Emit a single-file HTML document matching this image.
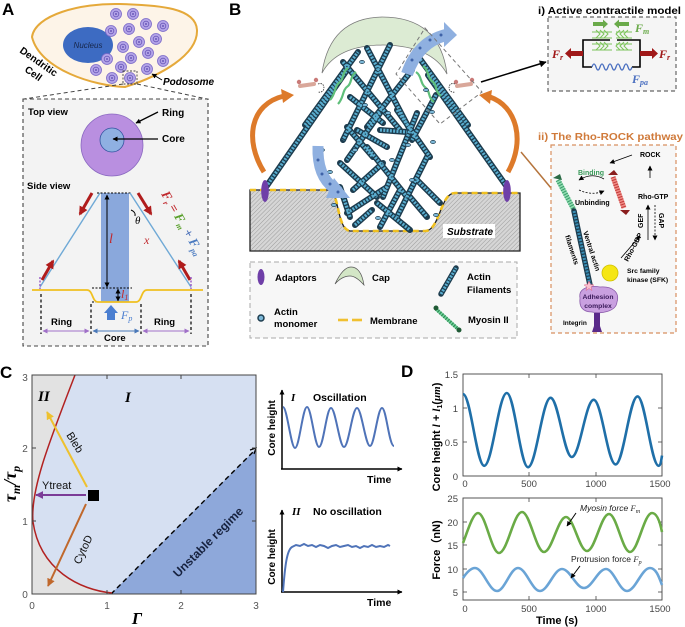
<!DOCTYPE html>
<html><head><meta charset="utf-8">
<style>
html,body{margin:0;padding:0;background:#fff;}
svg{display:block;}
text{font-family:"Liberation Sans",Arial,sans-serif;}
.sf{font-family:"Liberation Serif","DejaVu Serif",serif;}
.b{font-weight:bold;}
</style></head><body>
<svg width="685" height="627" viewBox="0 0 685 627" xmlns="http://www.w3.org/2000/svg">
<defs>
<pattern id="hatch" width="3" height="3" patternUnits="userSpaceOnUse" patternTransform="rotate(45)">
<rect width="3" height="3" fill="#d6d6d6"/>
<line x1="0" y1="0" x2="0" y2="3" stroke="#9c9c9c" stroke-width="1"/>
</pattern>
<marker id="aBk" viewBox="0 0 10 10" refX="9" refY="5" markerWidth="7" markerHeight="7" orient="auto-start-reverse" markerUnits="userSpaceOnUse"><path d="M0,0L10,5L0,10z" fill="#000"/></marker>
<marker id="aBs" viewBox="0 0 10 10" refX="9" refY="5" markerWidth="5" markerHeight="5" orient="auto-start-reverse" markerUnits="userSpaceOnUse"><path d="M0,0L10,5L0,10z" fill="#000"/></marker>
<marker id="aYe" viewBox="0 0 10 10" refX="9" refY="5" markerWidth="8" markerHeight="8" orient="auto" markerUnits="userSpaceOnUse"><path d="M0,0L10,5L0,10z" fill="#eec12e"/></marker>
<marker id="aPu" viewBox="0 0 10 10" refX="9" refY="5" markerWidth="8" markerHeight="8" orient="auto" markerUnits="userSpaceOnUse"><path d="M0,0L10,5L0,10z" fill="#7b3c97"/></marker>
<marker id="aBr" viewBox="0 0 10 10" refX="9" refY="5" markerWidth="8" markerHeight="8" orient="auto" markerUnits="userSpaceOnUse"><path d="M0,0L10,5L0,10z" fill="#c0682c"/></marker>
<marker id="aRd" viewBox="0 0 10 10" refX="8" refY="5" markerWidth="9" markerHeight="9" orient="auto" markerUnits="userSpaceOnUse"><path d="M0,0L10,5L0,10z" fill="#b01c1c"/></marker>
<marker id="aLp" viewBox="0 0 10 10" refX="9" refY="5" markerWidth="5" markerHeight="5" orient="auto-start-reverse" markerUnits="userSpaceOnUse"><path d="M0,0L10,5L0,10z" fill="#a070c8"/></marker>
<marker id="aLb" viewBox="0 0 10 10" refX="9" refY="5" markerWidth="5" markerHeight="5" orient="auto-start-reverse" markerUnits="userSpaceOnUse"><path d="M0,0L10,5L0,10z" fill="#4a78b8"/></marker>
<g id="pod"><circle r="5.5" fill="#b3a4e8" stroke="#7a68c8" stroke-width="0.8"/><circle r="2.8" fill="none" stroke="#6a58b8" stroke-width="0.8"/><circle r="1" fill="#6a58b8"/></g>
<g id="fils">
<line x1="266" y1="187" x2="347" y2="70"/>
<line x1="305" y1="125" x2="358" y2="52"/>
<line x1="507" y1="187" x2="428" y2="75"/>
<line x1="468" y1="125" x2="415" y2="52"/>
<line x1="343" y1="62" x2="400" y2="130"/>
<line x1="390" y1="45" x2="343" y2="140"/>
<line x1="367" y1="48" x2="410" y2="130"/>
<line x1="412" y1="70" x2="367" y2="127"/>
<line x1="350" y1="97" x2="383" y2="123"/>
<line x1="347" y1="127" x2="373" y2="157"/>
<line x1="380" y1="113" x2="347" y2="160"/>
<line x1="417" y1="113" x2="383" y2="197"/>
<line x1="397" y1="110" x2="430" y2="157"/>
<line x1="340" y1="163" x2="377" y2="197"/>
<line x1="367" y1="147" x2="407" y2="197"/>
<line x1="427" y1="157" x2="397" y2="217"/>
<line x1="347" y1="213" x2="387" y2="187"/>
<line x1="377" y1="203" x2="410" y2="230"/>
<line x1="400" y1="190" x2="380" y2="227"/>
<line x1="417" y1="180" x2="440" y2="203"/>
<line x1="410" y1="197" x2="427" y2="217"/>
<line x1="340" y1="187" x2="350" y2="217"/>
<line x1="353" y1="190" x2="383" y2="163"/>
<line x1="380" y1="130" x2="407" y2="132"/>
<line x1="357" y1="130" x2="387" y2="147"/>
<line x1="436" y1="95" x2="412" y2="140"/>
<line x1="355" y1="225" x2="372" y2="210"/>
</g>
</defs>

<!-- ================= PANEL A ================= -->
<text x="2" y="15" font-size="17" class="b">A</text>
<path d="M32,37 C35,15 80,3 120,4 C160,5 196,8 197,30 C198,55 160,76 125,87 C95,86 40,70 32,37 Z" fill="#fdf4e8" stroke="#e5a93a" stroke-width="2"/>
<ellipse cx="88" cy="45" rx="25" ry="18" fill="#3d6bc2"/>
<text x="88" y="48" font-size="8" font-style="italic" text-anchor="middle" fill="#17264a">Nucleus</text>
<use href="#pod" x="116" y="14"/><use href="#pod" x="133" y="14"/><use href="#pod" x="111" y="31"/><use href="#pod" x="129" y="29"/>
<use href="#pod" x="146" y="24"/><use href="#pod" x="163" y="26"/><use href="#pod" x="139" y="42"/><use href="#pod" x="156" y="39"/>
<use href="#pod" x="123" y="47"/><use href="#pod" x="148" y="53"/><use href="#pod" x="163" y="61"/><use href="#pod" x="131" y="58"/>
<use href="#pod" x="107" y="59"/><use href="#pod" x="121" y="67"/><use href="#pod" x="96" y="70"/><use href="#pod" x="147" y="69"/>
<use href="#pod" x="112" y="78"/><use href="#pod" x="130" y="78"/>
<text transform="translate(19,52) rotate(35)" font-size="10" class="b">Dendritic</text>
<text transform="translate(24,71) rotate(35)" font-size="10" class="b">Cell</text>
<text x="163" y="85" font-size="10" class="b" font-style="italic">Podosome</text>
<line x1="162" y1="80" x2="152" y2="74" stroke="#000" stroke-width="1" marker-end="url(#aBs)"/>
<rect x="123" y="71" width="14" height="13" fill="none" stroke="#444" stroke-width="0.9" stroke-dasharray="2 1.5"/>
<line x1="123" y1="84" x2="24" y2="99" stroke="#444" stroke-width="1" stroke-dasharray="4 3"/>
<line x1="137" y1="84" x2="207" y2="99" stroke="#444" stroke-width="1" stroke-dasharray="4 3"/>
<rect x="23" y="99" width="185" height="247" fill="#f3f3f3" stroke="#444" stroke-width="1.1" stroke-dasharray="4 3"/>
<text x="28" y="115" font-size="9.5" class="b">Top view</text>
<circle cx="112" cy="145" r="31" fill="#b98fe0" stroke="#8a68c0" stroke-width="0.8"/>
<circle cx="112" cy="140" r="12" fill="#8fb0e2" stroke="#3454a0" stroke-width="0.8"/>
<text x="162" y="116" font-size="10" class="b">Ring</text>
<line x1="158" y1="112" x2="136" y2="123" stroke="#000" stroke-width="1.3" marker-end="url(#aBs)"/>
<text x="162" y="142" font-size="10" class="b">Core</text>
<line x1="158" y1="139" x2="113" y2="139" stroke="#000" stroke-width="1.3" marker-end="url(#aBs)"/>
<text x="27" y="189" font-size="9.5" class="b">Side view</text>
<rect x="101" y="193" width="28" height="109" fill="#8aa8dc"/>
<line x1="97" y1="193" x2="132" y2="193" stroke="#000" stroke-width="0.9" stroke-dasharray="2 1.5"/>
<line x1="92" y1="288" x2="132" y2="288" stroke="#000" stroke-width="0.9" stroke-dasharray="2 1.5"/>
<line x1="92" y1="302" x2="132" y2="302" stroke="#000" stroke-width="0.9" stroke-dasharray="2 1.5"/>
<line x1="107" y1="195" x2="107" y2="287" stroke="#000" stroke-width="1" marker-start="url(#aBs)" marker-end="url(#aBs)"/>
<line x1="118" y1="289" x2="118" y2="301" stroke="#000" stroke-width="1" marker-start="url(#aBs)" marker-end="url(#aBs)"/>
<text x="109" y="243" font-size="14" font-style="italic" class="sf" fill="#c0282d">l</text>
<text x="121" y="298" font-size="12" font-style="italic" class="sf" fill="#c0282d">l<tspan font-size="8" dy="2">1</tspan></text>
<line x1="100" y1="193" x2="40" y2="287" stroke="#6fa9d6" stroke-width="1.4"/>
<line x1="130" y1="193" x2="191" y2="287" stroke="#6fa9d6" stroke-width="1.4"/>
<line x1="92" y1="193" x2="80" y2="214" stroke="#b01c1c" stroke-width="3" marker-end="url(#aRd)"/>
<line x1="138" y1="193" x2="151" y2="214" stroke="#b01c1c" stroke-width="3" marker-end="url(#aRd)"/>
<line x1="42" y1="280" x2="53" y2="261" stroke="#b01c1c" stroke-width="3" marker-end="url(#aRd)"/>
<line x1="190" y1="280" x2="179" y2="261" stroke="#b01c1c" stroke-width="3" marker-end="url(#aRd)"/>
<path d="M131,210 Q136,212 135,216" fill="none" stroke="#000" stroke-width="1"/>
<text x="135" y="224" font-size="11" font-style="italic" class="sf">θ</text>
<text x="144" y="244" font-size="12" font-style="italic" class="sf" fill="#c0282d">x</text>
<text transform="translate(161,194) rotate(60)" font-size="13" font-weight="bold" font-style="italic" class="sf"><tspan fill="#c0282d">F</tspan><tspan fill="#c0282d" font-size="8" dy="3">r</tspan><tspan fill="#c0282d" dy="-3"> = </tspan><tspan fill="#5aa02c">F</tspan><tspan fill="#5aa02c" font-size="8" dy="3">m</tspan><tspan fill="#4a6fb8" dy="-3"> + </tspan><tspan fill="#4a7ac0">F</tspan><tspan fill="#4a7ac0" font-size="8" dy="3">pa</tspan></text>
<path d="M32,290 L87,290 C93,290 92,302 98,302 L136,302 C142,302 141,290 147,290 L203,290" fill="none" stroke="#f0c020" stroke-width="1.8"/>
<line x1="40" y1="277" x2="40" y2="289" stroke="#9a5ec8" stroke-width="1.5" stroke-dasharray="2 1.5"/>
<line x1="191" y1="277" x2="191" y2="289" stroke="#9a5ec8" stroke-width="1.5" stroke-dasharray="2 1.5"/>
<path d="M104,313 L111,305 L118,313 L115,313 L115,320 L107,320 L107,313 Z" fill="#4a7ed0"/>
<text x="121" y="319" font-size="12" font-style="italic" class="sf" fill="#4a7ed0">F<tspan font-size="8" dy="2">p</tspan></text>
<g stroke="#000" stroke-width="1.2" stroke-dasharray="3 2.5">
<line x1="41" y1="294" x2="41" y2="334"/><line x1="91" y1="304" x2="91" y2="334"/>
<line x1="141" y1="304" x2="141" y2="334"/><line x1="191" y1="294" x2="191" y2="334"/>
</g>
<text x="51" y="325" font-size="9.5" class="b">Ring</text>
<text x="154" y="325" font-size="9.5" class="b">Ring</text>
<text x="104" y="341" font-size="9.5" class="b">Core</text>
<line x1="43" y1="331" x2="89" y2="331" stroke="#a070c8" stroke-width="1" marker-start="url(#aLp)" marker-end="url(#aLp)"/>
<line x1="143" y1="331" x2="189" y2="331" stroke="#a070c8" stroke-width="1" marker-start="url(#aLp)" marker-end="url(#aLp)"/>
<line x1="93" y1="331" x2="139" y2="331" stroke="#4a78b8" stroke-width="1" marker-start="url(#aLb)" marker-end="url(#aLb)"/>

<!-- ================= PANEL B ================= -->
<text x="229" y="15" font-size="17" class="b">B</text>
<path d="M322,73 Q330,18 382,17 Q440,17 447,74 Q432,46 384,45 Q337,45 322,73 Z" fill="#dcebd3" stroke="#7a7a7a" stroke-width="0.8"/>
<path d="M250,190 L328,190 C340,190 336,229 350,231 L425,231 C440,231 440,193 455,193 L520,193 L520,251 L250,251 Z" fill="url(#hatch)" stroke="#222" stroke-width="1.3"/>
<path d="M250,190 L328,190 C340,190 336,229 350,231 L425,231 C440,231 440,193 455,193 L520,193" fill="none" stroke="#f0c020" stroke-width="2.6" stroke-dasharray="6 4"/>
<rect x="443" y="224" width="52" height="14" fill="#fff"/>
<text x="447" y="235" font-size="10" class="b" font-style="italic">Substrate</text>
<use href="#fils" stroke="#1d3c4e" stroke-width="6" stroke-linecap="round"/>
<use href="#fils" stroke="#5aaed0" stroke-width="3.2" stroke-dasharray="2 1.3"/>
<!-- myosin green springs -->
<path d="M330,100 C336,94 334,86 340,82 C344,79 342,72 348,68" fill="none" stroke="#5fbf7a" stroke-width="2.2"/>
<path d="M338,104 C344,98 342,90 348,86 C352,83 350,76 356,72" fill="none" stroke="#5fbf7a" stroke-width="2.2"/>
<path d="M423,66 C429,70 427,78 433,82 C437,85 435,92 441,96" fill="none" stroke="#5fbf7a" stroke-width="2.2"/>
<path d="M416,72 C422,76 420,84 426,88 C430,91 428,98 434,102" fill="none" stroke="#5fbf7a" stroke-width="2.2"/>
<g fill="#7cb8d8" stroke="#1d3c4e" stroke-width="0.7">
<ellipse cx="362" cy="62" rx="2.5" ry="1.6"/><ellipse cx="408" cy="145" rx="2.5" ry="1.6"/><ellipse cx="432" cy="112" rx="2.5" ry="1.6"/>
<ellipse cx="392" cy="160" rx="2.5" ry="1.6"/><ellipse cx="355" cy="150" rx="2.5" ry="1.6"/><ellipse cx="433" cy="142" rx="2.5" ry="1.6"/>
<ellipse cx="378" cy="218" rx="2.5" ry="1.6"/><ellipse cx="436" cy="215" rx="2.5" ry="1.6"/><ellipse cx="330" cy="172" rx="2.5" ry="1.6"/>
<ellipse cx="426" cy="90" rx="2.5" ry="1.6"/><ellipse cx="365" cy="105" rx="2.5" ry="1.6"/><ellipse cx="322" cy="150" rx="2.5" ry="1.6"/>
<ellipse cx="412" cy="180" rx="2.5" ry="1.6"/><ellipse cx="334" cy="205" rx="2.5" ry="1.6"/><ellipse cx="388" cy="113" rx="2.5" ry="1.6"/>
</g>
<!-- blue curved arrows -->
<path d="M407,74 Q418,42 446,35" fill="none" stroke="#8fb0e0" stroke-width="12"/>
<polygon points="444,22 457,35 444,47" fill="#8fb0e0"/>
<g fill="#3e62a8"><circle cx="412" cy="60" r="1.5"/><circle cx="420" cy="48" r="1.5"/><circle cx="430" cy="40" r="1.5"/><circle cx="441" cy="35" r="1.5"/></g>
<path d="M318,146 Q317,176 334,188" fill="none" stroke="#8fb0e0" stroke-width="11"/>
<polygon points="334,178 350,198 326,198" fill="#8fb0e0"/>
<g fill="#3e62a8"><circle cx="318" cy="160" r="1.5"/><circle cx="322" cy="174" r="1.5"/><circle cx="330" cy="184" r="1.5"/><circle cx="338" cy="192" r="1.5"/></g>
<!-- orange arrows -->
<path d="M264,172 C244,140 250,104 284,96" fill="none" stroke="#dd7a2a" stroke-width="5"/>
<polygon points="281,89 294,95 283,103" fill="#dd7a2a"/>
<path d="M508,172 C526,140 516,106 490,97" fill="none" stroke="#dd7a2a" stroke-width="5"/>
<polygon points="492,90 479,95 490,104" fill="#dd7a2a"/>
<line x1="521" y1="152" x2="551" y2="188" stroke="#b5743c" stroke-width="1.5"/>
<!-- pink myosin -->
<path d="M300,86 L314,84" stroke="#d9a79a" stroke-width="4" stroke-linecap="round"/>
<circle cx="299" cy="82" r="2.2" fill="#c97a78"/><circle cx="316" cy="80" r="2.2" fill="#c97a78"/>
<path d="M318,84 q6,-2 6,5 q-2,4 -6,3" fill="none" stroke="#333" stroke-width="0.8" stroke-dasharray="1.5 1"/>
<path d="M457,86 L471,84" stroke="#d9a79a" stroke-width="4" stroke-linecap="round"/>
<circle cx="456" cy="82" r="2.2" fill="#c97a78"/><circle cx="472" cy="80" r="2.2" fill="#c97a78"/>
<path d="M455,84 q-6,-2 -6,5 q2,4 6,3" fill="none" stroke="#333" stroke-width="0.8" stroke-dasharray="1.5 1"/>
<ellipse cx="265" cy="191" rx="3.8" ry="11" fill="#6f3fa8"/>
<ellipse cx="507" cy="191" rx="3.8" ry="11" fill="#6f3fa8"/>
<polygon points="425,28 482,92 440,124 396,74" fill="none" stroke="#777" stroke-width="1" stroke-dasharray="4 3"/>
<line x1="481" y1="82" x2="546" y2="62" stroke="#000" stroke-width="1.5" marker-end="url(#aBk)"/>

<!-- legend -->
<rect x="250" y="262" width="267" height="76" fill="#f7f7f7" stroke="#aaa" stroke-width="1" stroke-dasharray="5 3"/>
<ellipse cx="261" cy="277" rx="3.5" ry="8" fill="#6f3fa8"/>
<text x="275" y="281" font-size="9.5" class="b">Adaptors</text>
<path d="M335,284 Q343,267 351,267 Q361,267 364,285 Q356,276 350,276 Q342,276 335,284 Z" fill="#d3e6c6" stroke="#555" stroke-width="0.7"/>
<text x="372" y="281" font-size="9.5" class="b">Cap</text>
<line x1="441" y1="294" x2="456" y2="268" stroke="#1d3c4e" stroke-width="5.5" stroke-linecap="round"/>
<line x1="441" y1="294" x2="456" y2="268" stroke="#5aaed0" stroke-width="3" stroke-dasharray="2 1.2"/>
<text x="467" y="280" font-size="9.5" class="b">Actin</text>
<text x="467" y="293" font-size="9.5" class="b">Filaments</text>
<circle cx="261" cy="318" r="3" fill="#7cb8d8" stroke="#1d3c4e" stroke-width="1.5"/>
<text x="274" y="315" font-size="9.5" class="b">Actin</text>
<text x="274" y="327" font-size="9.5" class="b">monomer</text>
<line x1="338" y1="320" x2="348" y2="320" stroke="#f0c030" stroke-width="2.6"/>
<line x1="352" y1="320" x2="362" y2="320" stroke="#f0c030" stroke-width="2.6"/>
<text x="370" y="324" font-size="9.5" class="b">Membrane</text>
<path d="M436,309 L458,329" stroke="#6fd39a" stroke-width="3.5"/>
<path d="M436,309 L458,329" stroke="#2f8a55" stroke-width="3.5" stroke-dasharray="1.2 1.5"/>
<circle cx="436" cy="308" r="2.5" fill="#1f5a35"/><circle cx="459" cy="330" r="2.5" fill="#1f5a35"/>
<text x="468" y="323" font-size="9.5" class="b">Myosin II</text>

<!-- box i -->
<text x="538" y="14" font-size="10.5" class="b" textLength="143" lengthAdjust="spacingAndGlyphs">i) Active contractile model</text>
<rect x="548" y="17" width="128" height="74" fill="#f5f5f5" stroke="#666" stroke-width="1.2" stroke-dasharray="4 3"/>
<path d="M610,40 L583,40 L583,67 L592,67 M632,67 L640,67 L640,40 L617,40" fill="none" stroke="#000" stroke-width="1.6"/>
<g stroke="#7cc45a" stroke-width="1" fill="none">
<line x1="592" y1="32" x2="612" y2="32"/><line x1="592" y1="38" x2="612" y2="38"/><line x1="592" y1="44" x2="612" y2="44"/><line x1="592" y1="50" x2="612" y2="50"/>
<line x1="616" y1="32" x2="632" y2="32"/><line x1="616" y1="38" x2="632" y2="38"/><line x1="616" y1="44" x2="632" y2="44"/><line x1="616" y1="50" x2="632" y2="50"/>
<path d="M596,30 l4,4 l-4,4 M600,30 l4,4 l-4,4 M604,30 l4,4 l-4,4 M596,42 l4,4 l-4,4 M600,42 l4,4 l-4,4 M604,42 l4,4 l-4,4"/>
<path d="M628,30 l-4,4 l4,4 M624,30 l-4,4 l4,4 M620,30 l-4,4 l4,4 M628,42 l-4,4 l4,4 M624,42 l-4,4 l4,4 M620,42 l-4,4 l4,4"/>
</g>
<path d="M593,22 L603,22 L603,19.5 L608,24 L603,28.5 L603,26 L593,26 Z" fill="#6aaa4a"/>
<path d="M629,22 L619,22 L619,19.5 L614,24 L619,28.5 L619,26 L629,26 Z" fill="#6aaa4a"/>
<text x="635" y="32" font-size="12" font-weight="bold" font-style="italic" class="sf" fill="#6aaa4a">F<tspan font-size="8" dy="2">m</tspan></text>
<path d="M583,51 L571,51 L571,48 L565,53.5 L571,59 L571,56 L583,56 Z" fill="#a01818"/>
<path d="M640,51 L652,51 L652,48 L658,53.5 L652,59 L652,56 L640,56 Z" fill="#a01818"/>
<text x="552" y="58" font-size="12" font-weight="bold" font-style="italic" class="sf" fill="#a01818">F<tspan font-size="8" dy="2">r</tspan></text>
<text x="659" y="58" font-size="12" font-weight="bold" font-style="italic" class="sf" fill="#a01818">F<tspan font-size="8" dy="2">r</tspan></text>
<path d="M592,67 q2,-6 4,0 q2,6 4,0 q2,-6 4,0 q2,6 4,0 q2,-6 4,0 q2,6 4,0 q2,-6 4,0 q2,6 4,0 q2,-6 4,0 q2,6 4,0" fill="none" stroke="#4a6fc0" stroke-width="1.3"/>
<text x="632" y="83" font-size="12" font-weight="bold" font-style="italic" class="sf" fill="#4a6fc0">F<tspan font-size="8" dy="2">pa</tspan></text>

<!-- box ii -->
<text x="538" y="140" font-size="10.5" class="b" fill="#d07a3a" textLength="145" lengthAdjust="spacingAndGlyphs">ii) The Rho-ROCK pathway</text>
<rect x="551" y="145" width="125" height="188" fill="#f7f7f7" stroke="#d89060" stroke-width="1.2" stroke-dasharray="4 3"/>
<text x="640" y="157" font-size="7" class="b">ROCK</text>
<line x1="632" y1="155" x2="610" y2="163" stroke="#000" stroke-width="0.8" marker-end="url(#aBs)"/>
<line x1="650" y1="178" x2="650" y2="166" stroke="#000" stroke-width="0.8" marker-end="url(#aBs)"/>
<text x="578" y="175" font-size="7" class="b" fill="#3a9a5a">Binding</text>
<path d="M604,179 Q592,172 579,180" fill="none" stroke="#000" stroke-width="0.8" marker-end="url(#aBs)"/>
<path d="M579,190 Q592,196 604,191" fill="none" stroke="#000" stroke-width="0.8" stroke-dasharray="2 1.5" marker-end="url(#aBs)"/>
<text x="575" y="205" font-size="7" class="b">Unbinding</text>
<text x="638" y="199" font-size="7" class="b">Rho-GTP</text>
<text transform="translate(643,228) rotate(-90)" font-size="7" class="b">GEF</text>
<text transform="translate(659,213) rotate(90)" font-size="7" class="b">GAP</text>
<line x1="648" y1="240" x2="648" y2="205" stroke="#000" stroke-width="0.8" marker-end="url(#aBs)"/>
<line x1="655" y1="205" x2="655" y2="240" stroke="#000" stroke-width="0.8" stroke-dasharray="2 1.5" marker-end="url(#aBs)"/>
<text transform="translate(628,262) rotate(-62)" font-size="7" class="b">Rho-GDP</text>
<line x1="621" y1="258" x2="640" y2="236" stroke="#000" stroke-width="0.8" marker-end="url(#aBs)"/>
<circle cx="610" cy="273" r="8" fill="#f5e614" stroke="#d0c000" stroke-width="0.8"/>
<text x="627" y="273" font-size="6.8" class="b">Src family</text>
<text x="627" y="282" font-size="6.8" class="b">kinase (SFK)</text>
<line x1="558" y1="180" x2="574" y2="210" stroke="#8fdcb0" stroke-width="5"/>
<line x1="558" y1="180" x2="574" y2="210" stroke="#3a9a6a" stroke-width="5" stroke-dasharray="1 1.6"/>
<path d="M553,178 l7,-4 l2,6 z" fill="#2a6a45"/>
<line x1="574" y1="211" x2="590" y2="285" stroke="#1d3c4e" stroke-width="5.5" stroke-linecap="round"/>
<line x1="574" y1="211" x2="590" y2="285" stroke="#3a90b8" stroke-width="3" stroke-dasharray="2 1.2"/>
<line x1="613" y1="177" x2="624" y2="208" stroke="#f08a84" stroke-width="5"/>
<line x1="613" y1="177" x2="624" y2="208" stroke="#c03a3a" stroke-width="5" stroke-dasharray="1 1.6"/>
<path d="M608,175 l6,-5 l4,5 z" fill="#8a1e1e"/><path d="M620,210 l6,5 l4,-5 z" fill="#8a1e1e"/>
<text transform="translate(583,232) rotate(72)" font-size="7" class="b">Ventral actin</text>
<text transform="translate(565,236) rotate(72)" font-size="7" class="b">filaments</text>
<path d="M580,298 C578,288 590,285 600,287 C612,286 620,292 617,302 C616,312 600,314 592,312 C582,312 579,306 580,298 Z" fill="#c9a0e0" stroke="#8a5aaa" stroke-width="0.8"/>
<text x="598" y="299" font-size="6.8" class="b" text-anchor="middle" fill="#3a1a5a">Adhesion</text>
<text x="598" y="308" font-size="6.8" class="b" text-anchor="middle" fill="#3a1a5a">complex</text>
<path d="M589,281 l1.5,3.5 l3.5,0.5 l-3,2 l1,3.5 l-3,-2 l-3,2 l1,-3.5 l-3,-2 l3.5,-0.5 z" fill="#f8c0d0" stroke="#e06080" stroke-width="0.5"/>
<path d="M594,313 L600,313 L600,326 L602,332 L592,332 L594,326 Z" fill="#5a2a8a"/>
<text x="563" y="325" font-size="6.5" class="b">Integrin</text>

<!-- ================= PANEL C ================= -->
<text x="0" y="378" font-size="17" class="b">C</text>
<rect x="32" y="375" width="224" height="219" fill="#d6e0f2"/>
<path d="M32,375 L75,375 C50,440 30,490 33,522 C40,570 80,590 112,594 L32,594 Z" fill="#e2e2e2"/>
<polygon points="111,594 256,594 256,449" fill="#8ea8da"/>
<line x1="111" y1="594" x2="254" y2="451" stroke="#000" stroke-width="1.4" stroke-dasharray="5 3.5"/>
<path d="M250,450 L256,448 L254,454" fill="none" stroke="#000" stroke-width="1.2"/>
<path d="M112,593 C80,590 40,570 33,522 C30,490 50,440 75,375" fill="none" stroke="#b22222" stroke-width="1.5"/>
<rect x="32" y="375" width="224" height="219" fill="none" stroke="#444" stroke-width="1"/>
<g stroke="#444" stroke-width="1">
<line x1="107" y1="594" x2="107" y2="590"/><line x1="181" y1="594" x2="181" y2="590"/>
<line x1="107" y1="375" x2="107" y2="379"/><line x1="181" y1="375" x2="181" y2="379"/>
<line x1="32" y1="521" x2="36" y2="521"/><line x1="32" y1="448" x2="36" y2="448"/>
<line x1="256" y1="521" x2="252" y2="521"/><line x1="256" y1="448" x2="252" y2="448"/>
</g>
<g font-size="10" fill="#555" text-anchor="middle">
<text x="32" y="609">0</text><text x="107" y="609">1</text><text x="181" y="609">2</text><text x="256" y="609">3</text>
<text x="25" y="598">0</text><text x="25" y="525">1</text><text x="25" y="452">2</text><text x="25" y="381">3</text>
</g>
<text x="137" y="624" font-size="17" font-weight="bold" font-style="italic" class="sf" text-anchor="middle">Γ</text>
<text transform="translate(16,484) rotate(-90)" font-size="18" font-weight="bold" font-style="italic" class="sf" text-anchor="middle">τ<tspan font-size="12" dy="4">m</tspan><tspan dy="-4">/τ</tspan><tspan font-size="12" dy="4">p</tspan></text>
<text x="38" y="401" font-size="15" font-weight="bold" font-style="italic" class="sf">II</text>
<text x="125" y="402" font-size="15" font-weight="bold" font-style="italic" class="sf">I</text>
<line x1="87" y1="487" x2="47" y2="412" stroke="#eec12e" stroke-width="2" marker-end="url(#aYe)"/>
<text transform="translate(66,435) rotate(58)" font-size="11" fill="#111">Bleb</text>
<line x1="86" y1="495" x2="36" y2="495" stroke="#7b3c97" stroke-width="2" marker-end="url(#aPu)"/>
<text x="42" y="489" font-size="11" fill="#111">Ytreat</text>
<line x1="86" y1="504" x2="48" y2="586" stroke="#c0682c" stroke-width="2" marker-end="url(#aBr)"/>
<text transform="translate(80,565) rotate(-65)" font-size="11" fill="#111">CytoD</text>
<rect x="88" y="490" width="11" height="11" fill="#000"/>
<text transform="translate(211,545) rotate(-45)" font-size="12" class="b" fill="#17223f" text-anchor="middle">Unstable regime</text>

<text x="291" y="401" font-size="11" font-weight="bold" font-style="italic" class="sf">I</text>
<text x="313" y="401" font-size="10.5" class="b">Oscillation</text>
<line x1="282" y1="469" x2="282" y2="390" stroke="#000" stroke-width="1.5" marker-end="url(#aBs)"/>
<line x1="281" y1="469" x2="402" y2="469" stroke="#000" stroke-width="1.5" marker-end="url(#aBs)"/>
<text transform="translate(275,428) rotate(-90)" font-size="10" class="b" text-anchor="middle">Core height</text>
<text x="367" y="483" font-size="10.5" class="b">Time</text>
<path d="M283,407 C287,407 291,448 295,448 C299.3,448 302.7,407 307,407 C311.3,407 314.7,447 319,447 C323.5,447 326.5,408 331,408 C335.5,408 339.5,447 344,447 C348.7,447 352.3,408 357,408 C361.5,408 365.5,446 370,446 C374.3,446 377.7,408 382,408 C386.3,408 389,446 394,446" fill="none" stroke="#4f73b8" stroke-width="2"/>
<text x="292" y="515" font-size="11" font-weight="bold" font-style="italic" class="sf">II</text>
<text x="313" y="515" font-size="10.5" class="b">No oscillation</text>
<line x1="282" y1="592" x2="282" y2="510" stroke="#000" stroke-width="1.5" marker-end="url(#aBs)"/>
<line x1="281" y1="592" x2="402" y2="592" stroke="#000" stroke-width="1.5" marker-end="url(#aBs)"/>
<text transform="translate(275,557) rotate(-90)" font-size="10" class="b" text-anchor="middle">Core height</text>
<text x="367" y="606" font-size="10.5" class="b">Time</text>
<path d="M283,592 C285,565 287,550 292,547 L296,545 L300,546 L304,544 L308,546 L312,545 L316,547 L320,545 L324,546 L328,548 L332,546 L336,545 L340,547 L344,546 L348,545 L352,547 L356,546 L360,548 L364,546 L368,547 L372,545 L376,547 L380,546 L384,547 L388,545 L390,546" fill="none" stroke="#4f73b8" stroke-width="2"/>

<!-- ================= PANEL D ================= -->
<text x="401" y="377" font-size="17" class="b">D</text>
<rect x="463" y="374" width="199" height="102" fill="#fff" stroke="#444" stroke-width="0.9"/>
<rect x="463" y="498" width="199" height="102" fill="#fff" stroke="#444" stroke-width="0.9"/>
<g stroke="#444" stroke-width="0.8">
<line x1="529" y1="476" x2="529" y2="472"/><line x1="596" y1="476" x2="596" y2="472"/>
<line x1="529" y1="374" x2="529" y2="378"/><line x1="596" y1="374" x2="596" y2="378"/>
<line x1="463" y1="442" x2="467" y2="442"/><line x1="463" y1="408" x2="467" y2="408"/>
<line x1="662" y1="442" x2="658" y2="442"/><line x1="662" y1="408" x2="658" y2="408"/>
<line x1="529" y1="600" x2="529" y2="596"/><line x1="596" y1="600" x2="596" y2="596"/>
<line x1="529" y1="498" x2="529" y2="502"/><line x1="596" y1="498" x2="596" y2="502"/>
<line x1="463" y1="522" x2="467" y2="522"/><line x1="463" y1="545" x2="467" y2="545"/><line x1="463" y1="569" x2="467" y2="569"/><line x1="463" y1="592" x2="467" y2="592"/>
<line x1="662" y1="522" x2="658" y2="522"/><line x1="662" y1="545" x2="658" y2="545"/><line x1="662" y1="569" x2="658" y2="569"/><line x1="662" y1="592" x2="658" y2="592"/>
</g>
<g font-size="9.5" fill="#444">
<g text-anchor="end"><text x="458" y="378">1.5</text><text x="458" y="412">1</text><text x="458" y="446">0.5</text><text x="458" y="480">0</text>
<text x="458" y="502">25</text><text x="458" y="526">20</text><text x="458" y="549">15</text><text x="458" y="573">10</text><text x="458" y="596">5</text></g>
<g text-anchor="middle"><text x="465" y="487">0</text><text x="529" y="487">500</text><text x="596" y="487">1000</text><text x="660" y="487">1500</text>
<text x="465" y="612">0</text><text x="529" y="612">500</text><text x="596" y="612">1000</text><text x="660" y="612">1500</text></g>
</g>
<text x="557" y="624" font-size="11" class="b" text-anchor="middle">Time (s)</text>
<text transform="translate(440,437) rotate(-90)" font-size="11" class="b" text-anchor="middle">Core height <tspan class="sf" font-style="italic">l</tspan> + <tspan class="sf" font-style="italic">l</tspan><tspan font-size="7" dy="2">1</tspan><tspan dy="-2">(</tspan><tspan class="sf" font-style="italic">μm</tspan>)</text>
<text transform="translate(440,550) rotate(-90)" font-size="11" class="b" text-anchor="middle">Force（nN)</text>
<path d="M463,394 C470.6,394 476.6,465.8 484.2,465.8 C492.3,465.8 498.7,393 506.8,393 C514.4,393 520.4,467.2 528,467.2 C536.1,467.2 542.5,397.8 550.6,397.8 C558.2,397.8 564.2,457 571.8,457 C579.7,457 585.8,399.8 593.7,399.8 C601.6,399.8 607.7,464.4 615.6,464.4 C623.5,464.4 629.6,396.4 637.5,396.4 C645.1,396.4 651.1,465.8 658.7,465.8 C660.5,465.8 661.3,460 662,455.6" fill="none" stroke="#1f6fa8" stroke-width="2.6"/>
<path d="M463,543 C468,530 473,513 478,513 C485.6,513 491.4,553 499,553 C507.3,553 513.7,512 522,512 C529.9,512 536.1,552 544,552 C551.9,552 558.1,517 566,517 C573.6,517 579.4,551 587,551 C594.9,551 601.1,514 609,514 C616.6,514 622.4,552 630,552 C637.9,552 644.1,513 652,513 C657,513 660,522 662,532" fill="none" stroke="#6aab46" stroke-width="2.6"/>
<path d="M463,578 C467,572 471,568 475,568 C482.9,568 489.1,591 497,591 C504.6,591 510.4,568 518,568 C525.9,568 532.1,591 540,591 C547.9,591 554.1,569 562,569 C569.9,569 576.1,588 584,588 C591.9,588 598.1,569 606,569 C613.6,569 619.4,591 627,591 C635.3,591 641.7,568 650,568 C656,568 659,577 662,585" fill="none" stroke="#6aa4d6" stroke-width="2.6"/>
<text x="580" y="511" font-size="8.5" font-style="italic" fill="#222">Myosin force <tspan class="sf">F</tspan><tspan class="sf" font-size="6" dy="2">m</tspan></text>
<line x1="576" y1="513" x2="567" y2="526" stroke="#000" stroke-width="1" marker-end="url(#aBs)"/>
<text x="571" y="562" font-size="8.5" fill="#222">Protrusion force <tspan class="sf" font-style="italic">F</tspan><tspan class="sf" font-style="italic" font-size="6" dy="2">p</tspan></text>
<line x1="580" y1="566" x2="571" y2="578" stroke="#000" stroke-width="1" marker-end="url(#aBs)"/>
</svg>
</body></html>
